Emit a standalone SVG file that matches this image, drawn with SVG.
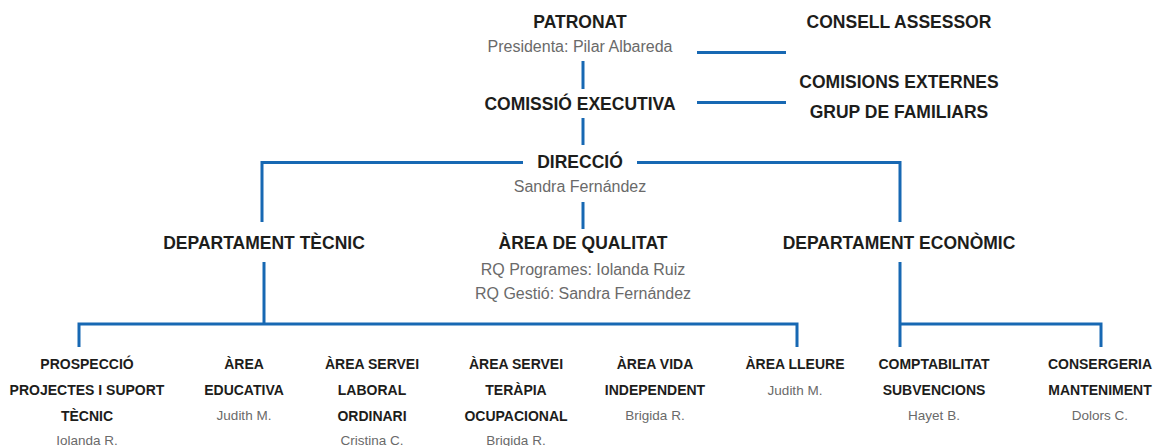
<svg xmlns="http://www.w3.org/2000/svg" width="1157" height="446" viewBox="0 0 1157 446">
<style>
.h{font-family:"Liberation Sans",Arial,sans-serif;font-weight:bold;font-size:17.5px;fill:#1d1d1b;text-anchor:middle}
.s{font-family:"Liberation Sans",Arial,sans-serif;font-size:14px;font-weight:bold;fill:#1d1d1b;text-anchor:middle}
.g{font-family:"Liberation Sans",Arial,sans-serif;font-size:16px;fill:#6a6a6a;text-anchor:middle}
.gs{font-family:"Liberation Sans",Arial,sans-serif;font-size:13.5px;fill:#6a6a6a;text-anchor:middle}
.c{fill:none;stroke:#1768b3;stroke-width:3}
</style>
<rect width="1157" height="446" fill="#fff"/>
<g id="connectors" class="c">
<line x1="583" y1="61" x2="583" y2="89"/>
<line x1="583" y1="118" x2="583" y2="145"/>
<line x1="697" y1="52.5" x2="786" y2="52.5"/>
<line x1="697" y1="102.5" x2="786" y2="102.5"/>
<polyline points="523,162.5 262,162.5 262,222"/>
<polyline points="637,162.5 900,162.5 900,222"/>
<line x1="583" y1="202" x2="583" y2="229"/>
<line x1="264" y1="262" x2="264" y2="324"/>
<polyline points="79,347 79,324 797,324 797,347"/>
<line x1="900" y1="262" x2="900" y2="347"/>
<polyline points="900,324 1101,324 1101,347"/>
</g>
<g id="patronat"><text class="h" x="580" y="28">PATRONAT</text><text class="g" x="580" y="52">Presidenta: Pilar Albareda</text></g>
<g id="consell"><text class="h" x="899" y="28">CONSELL ASSESSOR</text></g>
<g id="comissio"><text class="h" x="580" y="110">COMISSIÓ EXECUTIVA</text></g>
<g id="comisions"><text class="h" x="899" y="88">COMISIONS EXTERNES</text><text class="h" x="899" y="118">GRUP DE FAMILIARS</text></g>
<g id="direccio"><text class="h" x="580" y="168">DIRECCIÓ</text><text class="g" x="580" y="192">Sandra Fernández</text></g>
<g id="dep-tecnic"><text class="h" x="264" y="249">DEPARTAMENT TÈCNIC</text></g>
<g id="qualitat"><text class="h" x="583" y="249">ÀREA DE QUALITAT</text><text class="g" x="583" y="275">RQ Programes: Iolanda Ruiz</text><text class="g" x="583" y="299">RQ Gestió: Sandra Fernández</text></g>
<g id="dep-economic"><text class="h" x="899" y="249">DEPARTAMENT ECONÒMIC</text></g>
<g id="prospeccio"><text class="s" x="87" y="369">PROSPECCIÓ</text><text class="s" x="87" y="395">PROJECTES I SUPORT</text><text class="s" x="87" y="421">TÈCNIC</text><text class="gs" x="87" y="445">Iolanda R.</text></g>
<g id="educativa"><text class="s" x="244" y="369">ÀREA</text><text class="s" x="244" y="395">EDUCATIVA</text><text class="gs" x="244" y="420">Judith M.</text></g>
<g id="laboral"><text class="s" x="372" y="369">ÀREA SERVEI</text><text class="s" x="372" y="395">LABORAL</text><text class="s" x="372" y="421">ORDINARI</text><text class="gs" x="372" y="445">Cristina C.</text></g>
<g id="terapia"><text class="s" x="516" y="369">ÀREA SERVEI</text><text class="s" x="516" y="395">TERÀPIA</text><text class="s" x="516" y="421">OCUPACIONAL</text><text class="gs" x="516" y="445">Brigida R.</text></g>
<g id="vida"><text class="s" x="655" y="369">ÀREA VIDA</text><text class="s" x="655" y="395">INDEPENDENT</text><text class="gs" x="655" y="420">Brigida R.</text></g>
<g id="lleure"><text class="s" x="795" y="369">ÀREA LLEURE</text><text class="gs" x="795" y="395">Judith M.</text></g>
<g id="comptabilitat"><text class="s" x="934" y="369">COMPTABILITAT</text><text class="s" x="934" y="395">SUBVENCIONS</text><text class="gs" x="934" y="420">Hayet B.</text></g>
<g id="consergeria"><text class="s" x="1100" y="369">CONSERGERIA</text><text class="s" x="1100" y="395">MANTENIMENT</text><text class="gs" x="1100" y="420">Dolors C.</text></g>
</svg>
